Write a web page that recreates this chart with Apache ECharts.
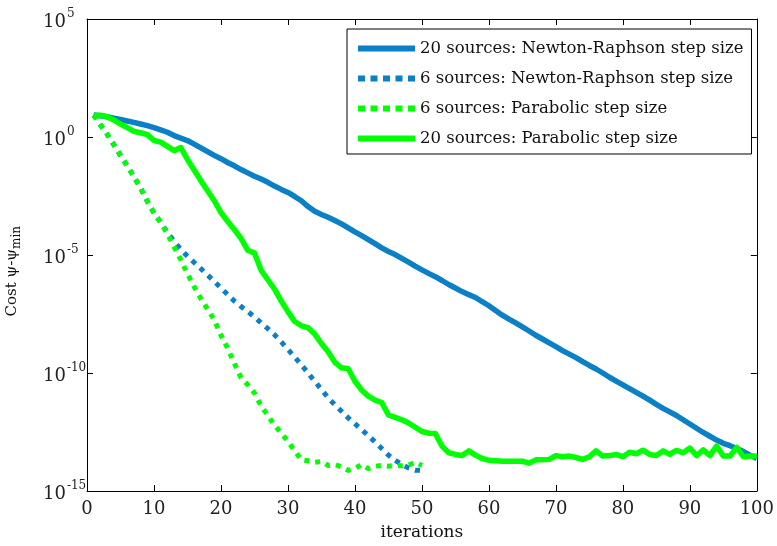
<!DOCTYPE html>
<html>
<head>
<meta charset="utf-8">
<script src="https://cdn.jsdelivr.net/npm/echarts@6/dist/echarts.min.js"></script>
<style>
  html, body { margin: 0; padding: 0; background: #fff; }
  #chart { width: 777px; height: 546px; }
</style>
</head>
<body>
<div id="chart"></div>
<script>
// Convergence of the cost function (stored as log10 of psi - psi_min), one value per iteration.
const iterations = Array.from({ length: 100 }, (_, k) => k + 1);

const nr20Log10 = [
  0.93, 0.90, 0.86, 0.80, 0.74, 0.68, 0.62, 0.55, 0.48, 0.40,
  0.30, 0.20, 0.06, -0.05, -0.15, -0.30, -0.46, -0.62, -0.78, -0.92,
  -1.08, -1.22, -1.38, -1.52, -1.66, -1.78, -1.92, -2.08, -2.22, -2.35,
  -2.52, -2.70, -2.95, -3.15, -3.28, -3.40, -3.54, -3.68, -3.85, -4.02,
  -4.18, -4.35, -4.52, -4.70, -4.85, -4.98, -5.14, -5.30, -5.47, -5.63,
  -5.78, -5.92, -6.08, -6.25, -6.40, -6.55, -6.68, -6.80, -6.98, -7.15,
  -7.35, -7.55, -7.72, -7.88, -8.05, -8.22, -8.40, -8.56, -8.72, -8.88,
  -9.05, -9.20, -9.35, -9.52, -9.68, -9.83, -10.00, -10.18, -10.34, -10.50,
  -10.66, -10.82, -10.98, -11.15, -11.33, -11.50, -11.65, -11.80, -11.98, -12.16,
  -12.34, -12.52, -12.68, -12.84, -12.98, -13.08, -13.20, -13.33, -13.48, -13.62
];

const nr6Log10 = [
  0.93, 0.52, 0.12, -0.32, -0.78, -1.22, -1.68, -2.16, -2.72, -3.22,
  -3.62, -4.05, -4.42, -4.76, -5.05, -5.32, -5.58, -5.85, -6.12, -6.40,
  -6.68, -6.95, -7.18, -7.40, -7.62, -7.88, -8.12, -8.38, -8.68, -9.00,
  -9.32, -9.65, -10.00, -10.35, -10.70, -11.05, -11.35, -11.62, -11.90, -12.15,
  -12.40, -12.65, -12.92, -13.20, -13.48, -13.70, -13.88, -14.02, -14.12, -14.12
];

const par6Log10 = [
  0.93, 0.52, 0.12, -0.32, -0.78, -1.22, -1.68, -2.16, -2.72, -3.22,
  -3.62, -4.10, -4.65, -5.20, -5.80, -6.35, -6.85, -7.30, -7.75, -8.40,
  -8.95, -9.60, -10.20, -10.50, -10.85, -11.40, -11.80, -12.22, -12.55, -12.90,
  -13.30, -13.68, -13.72, -13.78, -13.75, -13.92, -13.88, -13.98, -14.12, -14.05,
  -13.88, -14.05, -13.95, -13.92, -13.95, -13.92, -13.93, -13.90, -13.78, -13.92
];

const par20Log10 = [
  0.90, 0.92, 0.86, 0.72, 0.55, 0.40, 0.24, 0.18, 0.10, -0.15,
  -0.22, -0.40, -0.58, -0.45, -0.95, -1.40, -1.85, -2.28, -2.70, -3.20,
  -3.58, -3.92, -4.30, -4.80, -4.92, -5.65, -6.05, -6.45, -6.95, -7.40,
  -7.82, -8.00, -8.08, -8.35, -8.75, -9.10, -9.55, -9.78, -9.82, -10.35,
  -10.72, -10.98, -11.15, -11.25, -11.78, -11.88, -11.98, -12.12, -12.30, -12.48,
  -12.55, -12.56, -13.10, -13.38, -13.45, -13.50, -13.30, -13.48, -13.62, -13.70,
  -13.72, -13.74, -13.74, -13.74, -13.74, -13.82, -13.68, -13.68, -13.66, -13.50,
  -13.55, -13.52, -13.58, -13.66, -13.55, -13.30, -13.52, -13.50, -13.45, -13.55,
  -13.36, -13.42, -13.27, -13.45, -13.50, -13.30, -13.45, -13.28, -13.38, -13.18,
  -13.50, -13.26, -13.50, -13.10, -13.52, -13.52, -13.15, -13.55, -13.52, -13.52
];

const seriesNames = [
  '20 sources: Newton-Raphson step size',
  '6 sources: Newton-Raphson step size',
  '6 sources: Parabolic step size',
  '20 sources: Parabolic step size'
];

const xTicks = [0, 10, 20, 30, 40, 50, 60, 70, 80, 90, 100];
const yExponents = [-15, -10, -5, 0, 5];

const BLUE = '#0b80c6';
const GREEN = '#00ff00';
const FONT = 'DejaVu Serif';

// Legend swatches: a solid bar and a row of square dots.
const SOLID_ICON = 'path://M0,0H57V6H0Z';
const DOTTED_ICON = 'path://M0,0H7V6H0Z M12.5,0H19.5V6H12.5Z M25,0H32V6H25Z M37.5,0H44.5V6H37.5Z M50,0H57V6H50Z';

function pairs(logValues) {
  return logValues.map((v, k) => [iterations[k], Math.pow(10, v)]);
}

const chart = echarts.init(document.getElementById('chart'), null, { renderer: 'canvas' });

const solid = (color) => ({ color, width: 5.5, type: 'solid', cap: 'butt', join: 'round' });
const dotted = (color) => ({ color, width: 5, type: [5, 6], cap: 'butt', join: 'miter' });

const tickStyle = { lineStyle: { color: '#000', width: 1 } };

chart.setOption({
  animation: false,
  backgroundColor: '#fff',
  grid: { left: 87, right: 16, top: 19, bottom: 52, containLabel: false },
  legend: {
    orient: 'vertical',
    left: 347,
    top: 29,
    padding: [11, 8, 7, 11],
    itemWidth: 57,
    itemHeight: 6,
    itemGap: 13,
    backgroundColor: '#fff',
    borderColor: '#000',
    borderWidth: 1,
    borderRadius: 0,
    textStyle: { fontFamily: FONT, fontSize: 16.5, color: '#111' },
    data: [
      { name: seriesNames[0], icon: SOLID_ICON, itemStyle: { color: BLUE } },
      { name: seriesNames[1], icon: DOTTED_ICON, itemStyle: { color: BLUE } },
      { name: seriesNames[2], icon: DOTTED_ICON, itemStyle: { color: GREEN } },
      { name: seriesNames[3], icon: SOLID_ICON, itemStyle: { color: GREEN } }
    ]
  },
  xAxis: [
    {
      type: 'value',
      min: xTicks[0],
      max: xTicks[xTicks.length - 1],
      interval: 10,
      name: 'iterations',
      nameLocation: 'middle',
      nameGap: 33,
      nameTextStyle: { fontFamily: FONT, fontSize: 17, color: '#111' },
      axisLine: { show: true, onZero: false, lineStyle: { color: '#000', width: 1 } },
      axisTick: Object.assign({ show: true, inside: true, length: 6 }, tickStyle),
      axisLabel: { fontFamily: FONT, fontSize: 18, color: '#222', margin: 9 },
      splitLine: { show: false }
    },
    {
      type: 'value',
      position: 'top',
      min: xTicks[0],
      max: xTicks[xTicks.length - 1],
      interval: 10,
      axisLine: { show: true, onZero: false, lineStyle: { color: '#000', width: 1 } },
      axisTick: Object.assign({ show: true, inside: true, length: 6 }, tickStyle),
      axisLabel: { show: false },
      splitLine: { show: false }
    }
  ],
  yAxis: [
    {
      type: 'log',
      logBase: 10,
      min: Math.pow(10, yExponents[0]),
      max: Math.pow(10, yExponents[yExponents.length - 1]),
      interval: 5,
      axisLine: { show: true, onZero: false, lineStyle: { color: '#000', width: 1 } },
      axisTick: Object.assign({ show: true, inside: true, length: 6 }, tickStyle),
      minorTick: { show: false },
      splitLine: { show: false },
      axisLabel: {
        align: 'left',
        margin: 44,
        formatter: (v) => '{b|10}{s|' + Math.round(Math.log10(v)) + '}',
        rich: {
          b: { fontFamily: FONT, fontSize: 18, color: '#222', padding: [6, 0, 0, 0] },
          s: { fontFamily: FONT, fontSize: 12, color: '#222', padding: [0, 0, 10, 1] }
        }
      }
    },
    {
      type: 'log',
      logBase: 10,
      position: 'right',
      min: Math.pow(10, yExponents[0]),
      max: Math.pow(10, yExponents[yExponents.length - 1]),
      interval: 5,
      axisLine: { show: true, onZero: false, lineStyle: { color: '#000', width: 1 } },
      axisTick: Object.assign({ show: true, inside: true, length: 6 }, tickStyle),
      minorTick: { show: false },
      splitLine: { show: false },
      axisLabel: { show: false }
    }
  ],
  graphic: [
    {
      type: 'text',
      left: 5,
      top: 226,
      rotation: Math.PI / 2,
      style: {
        text: '{t|Cost ψ-ψ}{m|min}',
        rich: {
          t: { fontFamily: FONT, fontSize: 15, fill: '#111' },
          m: { fontFamily: FONT, fontSize: 12, fill: '#111', padding: [8, 0, 0, 0] }
        }
      }
    }
  ],
  series: [
    { name: seriesNames[0], type: 'line', data: pairs(nr20Log10), showSymbol: false, symbol: 'none', lineStyle: solid(BLUE), color: BLUE, z: 2 },
    { name: seriesNames[1], type: 'line', data: pairs(nr6Log10), showSymbol: false, symbol: 'none', lineStyle: dotted(BLUE), color: BLUE, z: 3 },
    { name: seriesNames[2], type: 'line', data: pairs(par6Log10), showSymbol: false, symbol: 'none', lineStyle: dotted(GREEN), color: GREEN, z: 4 },
    { name: seriesNames[3], type: 'line', data: pairs(par20Log10), showSymbol: false, symbol: 'none', lineStyle: solid(GREEN), color: GREEN, z: 5 }
  ]
});
</script>
</body>
</html>
